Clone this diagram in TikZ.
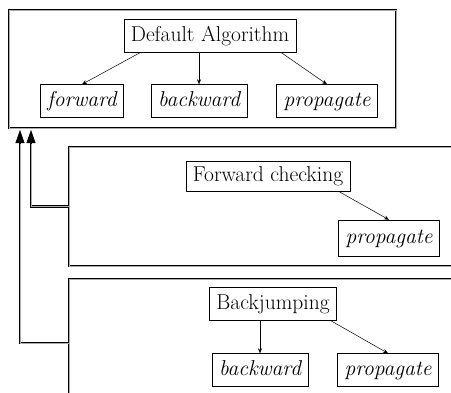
\documentclass[tikz,border=0pt]{standalone}
\usepackage{fontspec}
\usetikzlibrary{positioning,arrows.meta}

\tikzset{
  box/.style={draw,inner xsep=7pt,inner ysep=0pt,minimum height=33pt,
    text height=15pt,text depth=5pt,font=\fontsize{21.5}{24}\selectfont},
  meth/.style={box,font=\fontsize{21.5}{24}\selectfont\itshape},
  frame/.style={draw=black,double=gray!65,double distance=1pt,line width=0.8pt,
    inner sep=0pt,outer sep=0pt},
  link/.style={-{Stealth[length=5pt,width=4pt]},line width=0.5pt},
  uplink/.style={draw=black,double=gray!65,double distance=1pt,line width=0.8pt,
    shorten >=11pt},
  tip/.style={-{Triangle[length=13pt,width=9pt]},line width=0.5pt,fill=black}
}

\begin{document}
\begin{tikzpicture}[x=1pt,y=-1pt]
  \clip (0,0) rectangle (451,392);
  % frames
  \node[frame,minimum width=387pt,minimum height=118pt] at(202.5,69)(top){};
  \node[frame,minimum width=401pt,minimum height=119pt] at(269.5,206.5)(fcframe){};
  \node[frame,minimum width=401pt,minimum height=128pt] at(269.5,343)(bjframe){};
  % default algorithm
  \node[box] at(210,36)(dflt){Default Algorithm};
  \node[meth] at(82,101)(fw){forward};
  \node[meth] at(199,101)(bw){backward};
  \node[meth] at(327,101)(pr){propagate};
  % forward checking
  \node[box,minimum height=30pt] at(268,176)(fc){Forward checking};
  \node[meth,minimum height=36pt] at(389,238)(fcpr){propagate};
  % backjumping
  \node[box] at(273,304)(bj){Backjumping};
  \node[meth] at(260,370)(bjbw){backward};
  \node[meth] at(388,370)(bjpr){propagate};
  % calls
  \draw[link] ([xshift=-70pt]dflt.south) -- (fw.north);
  \draw[link] (bw.north |- dflt.south) -- (bw.north);
  \draw[link] ([xshift=-15pt]dflt.south east) -- (pr.north);
  \draw[link] ([xshift=-12pt]fc.south east) -- (fcpr.north);
  \draw[link] (bjbw.north |- bj.south) -- (bjbw.north);
  \draw[link] ([xshift=-6pt]bj.south east) -- (bjpr.north);
  % inheritance
  \coordinate (fcup) at(31,130);
  \coordinate (bjup) at(20,130);
  \draw[uplink] (fcframe.west) -| (fcup);
  \draw[uplink] (bjframe.west) -| (bjup);
  \draw[tip] ([yshift=-13pt]fcup) -- (fcup);
  \draw[tip] ([yshift=-13pt]bjup) -- (bjup);
\end{tikzpicture}
\end{document}
